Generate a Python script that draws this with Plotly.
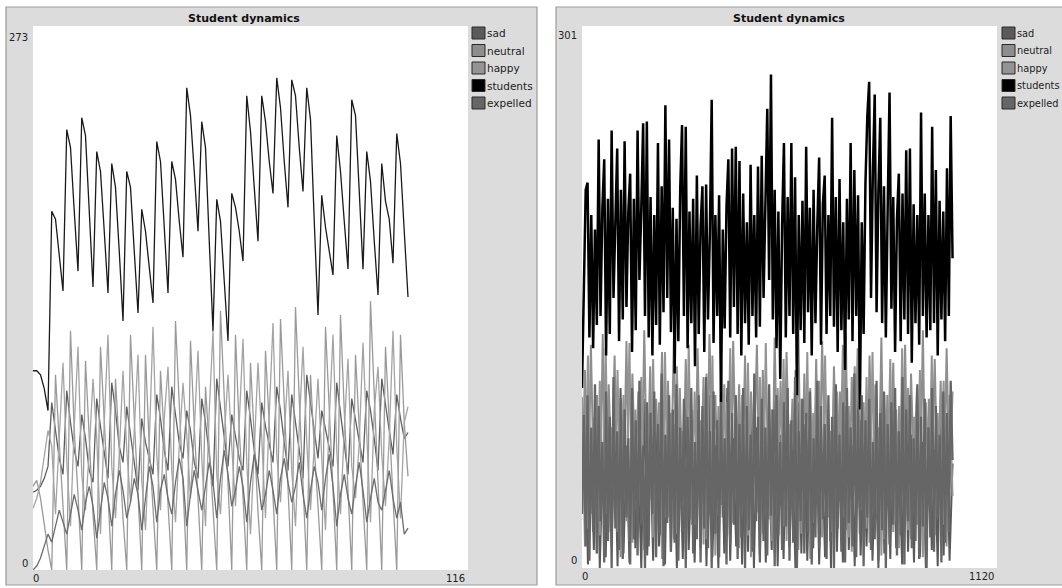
import plotly.graph_objects as go

W, H = 1062, 588

# ---------------- left chart data (ticks 0..100) ----------------
ticks_left = list(range(101))
students_l = [100, 100, 98, 91, 80,
              180, 176, 158, 140, 221, 212, 180, 150, 227, 218, 180, 142,
              210, 200, 170, 139, 204, 192, 160, 125, 200, 192, 160, 129,
              181, 170, 152, 134, 215, 205, 172, 139, 205, 196, 175, 157,
              242, 228, 200, 170, 225, 212, 165, 120, 186, 175, 145, 115,
              189, 182, 170, 155, 238, 220, 192, 165, 238, 225, 205, 189,
              247, 232, 205, 182, 246, 238, 212, 190, 242, 226, 175, 128,
              188, 172, 160, 148, 218, 200, 175, 151, 236, 228, 190, 151,
              210, 195, 165, 138, 204, 185, 176, 154, 219, 204, 170, 137]
neutral_l = [42, 45, 36, 22, 10,
             0, 98, 64, 30, 0, 120, 70, 38, 0, 105, 68, 28, 0, 112, 75, 35,
             0, 96, 58, 26, 0, 118, 76, 40, 0, 108, 62, 31, 0, 100, 66, 36,
             0, 125, 80, 42, 0, 115, 72, 33, 0, 92, 60, 30, 0, 130, 84, 45,
             0, 118, 70, 37, 0, 104, 66, 29, 0, 110, 73, 38, 0, 126, 79, 41,
             0, 132, 86, 44, 0, 98, 61, 32, 0, 122, 78, 40, 0, 128, 80, 39,
             0, 108, 69, 34, 0, 135, 88, 46, 0, 112, 71, 36, 0, 118, 74, 47]
happy_l = [31, 36, 44, 58, 70,
           62, 28, 66, 104, 55, 22, 72, 112, 48, 30, 60, 96, 66, 18, 74, 118,
           52, 26, 58, 100, 60, 34, 70, 108, 45, 20, 64, 122, 58, 30, 76, 102,
           50, 24, 62, 94, 68, 36, 70, 110, 56, 22, 80, 120, 48, 28, 66, 98,
           62, 32, 74, 116, 54, 18, 60, 104, 66, 26, 78, 124, 58, 34, 68, 100,
           50, 22, 72, 112, 64, 30, 62, 96, 56, 20, 76, 118, 60, 28, 70, 106,
           52, 36, 64, 114, 68, 24, 80, 102, 58, 32, 66, 120, 62, 26, 74, 82]
sad_l = [39, 40, 42, 46, 52,
         84, 70, 56, 48, 90, 74, 60, 52, 78, 66, 50, 44, 86, 72, 58, 46,
         94, 80, 62, 54, 82, 68, 52, 40, 76, 64, 56, 48, 88, 76, 60, 50,
         92, 78, 64, 56, 80, 70, 54, 46, 86, 74, 58, 42, 96, 82, 66, 52,
         78, 66, 56, 50, 90, 76, 60, 48, 84, 72, 62, 54, 92, 80, 64, 50,
         88, 74, 58, 46, 98, 84, 68, 56, 80, 70, 60, 52, 94, 78, 62, 48,
         86, 76, 64, 54, 90, 80, 66, 50, 96, 82, 70, 58, 88, 76, 66, 69]
expelled_l = [0, 2, 6, 12, 18,
              14, 22, 30, 24, 18, 28, 38, 30, 20, 34, 42, 32, 16, 30, 44, 36,
              22, 38, 50, 40, 26, 34, 46, 38, 20, 36, 52, 42, 24, 40, 48, 36,
              28, 44, 56, 46, 22, 38, 50, 40, 30, 42, 54, 44, 26, 46, 60, 48,
              32, 40, 52, 42, 24, 44, 58, 46, 30, 38, 50, 40, 28, 46, 56, 44,
              34, 42, 54, 38, 26, 40, 52, 44, 30, 46, 58, 42, 22, 38, 48, 36,
              28, 42, 54, 40, 24, 36, 46, 34, 30, 40, 50, 36, 26, 34, 18, 21]

# ---------------- right chart data (ticks 0..1000) ----------------
ticks_right_5 = list(range(0, 1001, 5))
ticks_right_8 = list(range(0, 1001, 8))
students_r = [100, 148, 210, 214, 128, 196, 122, 188, 135, 238,
              140, 200, 227, 118, 205, 130, 243, 150, 192, 233,
              126, 210, 138, 237, 145, 198, 219, 120, 205, 132,
              243, 160, 200, 247, 140, 248, 128, 206, 118, 196,
              135, 236, 124, 212, 142, 257, 150, 238, 131, 200,
              108, 194, 126, 210, 246, 140, 245, 122, 198, 136,
              205, 112, 218, 130, 190, 212, 120, 213, 138, 185,
              260, 125, 196, 140, 207, 92, 188, 133, 201, 227,
              128, 233, 145, 234, 130, 226, 118, 208, 136, 192,
              124, 224, 140, 196, 128, 223, 134, 229, 150, 206,
              255, 160, 274, 138, 210, 122, 198, 105, 190, 236,
              128, 206, 140, 236, 130, 217, 96, 196, 132, 204,
              125, 234, 142, 200, 118, 210, 136, 190, 228, 124,
              202, 218, 130, 196, 140, 250, 134, 206, 120, 216,
              132, 192, 110, 205, 138, 236, 126, 221, 140, 207,
              88, 192, 130, 214, 251, 270, 150, 220, 263, 142,
              210, 250, 136, 212, 128, 200, 264, 144, 206, 120,
              194, 219, 126, 208, 138, 232, 130, 233, 114, 202,
              136, 196, 124, 253, 140, 208, 128, 196, 132, 245,
              136, 221, 118, 204, 138, 198, 126, 222, 140, 251,
              172]
expelled_r = [30, 85, 12, 96, 4, 78, 20, 102, 8, 90,
              26, 70, 3, 98, 15, 84, 0, 106, 22, 76,
              10, 94, 5, 88, 28, 72, 2, 100, 16, 82,
              7, 104, 24, 68, 0, 92, 12, 86, 30, 98,
              6, 80, 18, 108, 1, 74, 25, 96, 9, 88,
              14, 102, 4, 78, 20, 94, 0, 84, 27, 100,
              8, 70, 16, 96, 3, 90, 22, 106, 11, 76,
              0, 98, 19, 82, 6, 92, 28, 72, 2, 104,
              13, 86, 24, 96, 5, 80, 17, 100, 0, 90,
              21, 74, 9, 108, 26, 84, 3, 94, 15, 78,
              7, 102, 29, 88, 1, 96, 18, 70, 10, 92,
              23, 100, 4, 82, 14, 106, 0, 76, 26, 94,
              8, 86, 20, 98, 2, 72, 17, 104, 11, 90,
              27, 80, 5, 96, 15, 84, 0, 102, 22, 74,
              9, 92, 3, 100, 25, 78, 12, 108, 6, 88,
              19, 96, 1, 82, 28, 94, 10, 70, 16, 104,
              4, 86, 21, 98, 0, 80, 13, 92, 24, 100,
              7, 76, 18, 106, 2, 88, 26, 96, 11, 72,
              15, 102, 5, 84, 23, 94, 0, 78, 17, 100,
              9, 90, 28, 74, 3, 98, 14, 86, 20, 104,
              60]
neutral_r = [38, 110, 22, 124, 45, 96, 18, 130, 30, 102,
             52, 118, 20, 90, 36, 126, 15, 108, 48, 98,
             26, 132, 40, 112, 17, 94, 55, 120, 28, 104,
             44, 128, 19, 100, 34, 116, 50, 88, 24, 122,
             41, 106, 16, 130, 53, 96, 29, 114, 37, 92,
             21, 126, 47, 102, 33, 118, 18, 98, 55, 124,
             27, 110, 42, 90, 15, 128, 39, 104, 23, 120,
             50, 94, 31, 132, 19, 108, 46, 100, 25, 116,
             36, 126, 54, 88, 20, 112, 43, 98, 28, 130,
             17, 106, 49, 122, 32, 92, 22, 118, 45, 102,
             38, 128, 16, 96, 52, 114, 26, 90, 40, 124,
             21, 108, 47, 100, 30, 132, 18, 94, 55, 116,
             34, 104, 24, 122, 44, 98]
happy_r = [95, 12, 118, 30, 84, 8, 104, 36, 122, 20,
           78, 40, 110, 6, 96, 26, 125, 14, 88, 34,
           106, 10, 80, 38, 116, 22, 92, 5, 120, 28,
           86, 16, 112, 33, 76, 9, 124, 24, 98, 39,
           82, 13, 108, 29, 118, 7, 90, 35, 102, 18,
           122, 25, 84, 11, 96, 37, 114, 6, 78, 31,
           106, 19, 125, 27, 88, 8, 100, 40, 116, 15,
           80, 32, 110, 10, 94, 23, 120, 5, 86, 36,
           104, 17, 118, 28, 76, 12, 98, 38, 124, 21,
           90, 9, 112, 34, 82, 26, 106, 14, 120, 30,
           78, 7, 96, 39, 116, 20, 88, 11, 122, 33,
           100, 16, 84, 24, 110, 6, 92, 37, 118, 18,
           86, 29, 104, 12, 96, 40]
sad_r = [30, 88, 2, 72, 10, 96, 0, 64, 6, 84,
         12, 78, 1, 100, 8, 68, 3, 90, 11, 60,
         0, 94, 7, 74, 4, 86, 12, 66, 2, 98,
         9, 80, 0, 70, 5, 92, 10, 62, 3, 88,
         11, 76, 1, 96, 6, 68, 0, 84, 8, 100,
         4, 72, 12, 90, 2, 64, 9, 94, 0, 78,
         7, 86, 3, 60, 10, 98, 1, 74, 5, 88,
         12, 66, 0, 92, 8, 80, 4, 70, 11, 96,
         2, 62, 6, 84, 0, 100, 9, 76, 3, 90,
         10, 68, 1, 94, 7, 72, 12, 86, 4, 64,
         0, 98, 8, 78, 5, 88, 11, 60, 2, 92,
         9, 74, 3, 96, 6, 70, 0, 84, 10, 66,
         1, 90, 7, 80, 4, 58]

series_names = ["sad", "neutral", "happy", "students", "expelled"]
series_colors = ["#5a5a5a", "#8e8e8e", "#949494", "#000000", "#666666"]
left_line_colors = ["#5e5e5e", "#9a9a9a", "#a4a4a4", "#1a1a1a", "#6c6c6c"]

left_y_max, left_x_max = 273, 116
right_y_max, right_x_max = 301, 1120


def px(x):
    return x / W


def py(y):
    return 1 - y / H


fig = go.Figure()

left_data = [(ticks_left, sad_l), (ticks_left, neutral_l), (ticks_left, happy_l),
             (ticks_left, students_l), (ticks_left, expelled_l)]
right_data = [(ticks_right_8, sad_r), (ticks_right_8, neutral_r), (ticks_right_8, happy_r),
              (ticks_right_5, students_r), (ticks_right_5, expelled_r)]
right_widths = [2.0, 2.0, 2.0, 2.5, 2.3]

for (xs, ys), name, col in zip(left_data, series_names, left_line_colors):
    fig.add_trace(go.Scatter(x=xs, y=ys, mode="lines", name=name, showlegend=False,
                             line=dict(color=col, width=1.3), xaxis="x", yaxis="y",
                             hoverinfo="skip"))
for (xs, ys), name, col, lw in zip(right_data, series_names, series_colors, right_widths):
    fig.add_trace(go.Scatter(x=xs, y=ys, mode="lines", name=name, showlegend=False,
                             line=dict(color=col, width=lw), xaxis="x2", yaxis="y2",
                             hoverinfo="skip"))

ax_common = dict(showgrid=False, zeroline=False, showticklabels=False, ticks="",
                 showline=False, fixedrange=True)

shapes = []
annotations = []

panels = [
    dict(outer=(6, 537, 7, 585), plot=(33, 468, 26, 570), leg=472, title=244, leg_font=10.5,
         ymax=left_y_max, xmax=left_x_max, ylab_x=30, ytop_y=37, y0_y=563, xl_y=578),
    dict(outer=(556, 1070, 7, 585), plot=(582, 997, 26, 568), leg=1002, title=789, leg_font=9.8,
         ymax=right_y_max, xmax=right_x_max, ylab_x=579, ytop_y=35, y0_y=560, xl_y=576),
]

for p in panels:
    ox0, ox1, oy0, oy1 = p["outer"]
    shapes.append(dict(type="rect", xref="paper", yref="paper", layer="below",
                       x0=px(ox0), x1=px(ox1), y0=py(oy1), y1=py(oy0),
                       fillcolor="#dcdcdc", line=dict(color="#9c9c9c", width=1.2)))
    x0, x1, y0, y1 = p["plot"]
    shapes.append(dict(type="rect", xref="paper", yref="paper", layer="below",
                       x0=px(x0), x1=px(x1), y0=py(y1), y1=py(y0),
                       fillcolor="#ffffff", line=dict(width=0)))
    annotations.append(dict(text="<b>Student dynamics</b>", xref="paper", yref="paper",
                            x=px(p["title"]), y=py(18), xanchor="center", yanchor="middle",
                            showarrow=False, font=dict(family="DejaVu Sans", size=11, color="#111")))
    lab_font = dict(family="DejaVu Sans", size=10, color="#222")
    annotations.append(dict(text=str(p["ymax"]), xref="paper", yref="paper",
                            x=px(p["ylab_x"]), y=py(p["ytop_y"]), xanchor="right", yanchor="middle",
                            showarrow=False, font=lab_font))
    annotations.append(dict(text="0", xref="paper", yref="paper",
                            x=px(p["ylab_x"]), y=py(p["y0_y"]), xanchor="right", yanchor="middle",
                            showarrow=False, font=lab_font))
    annotations.append(dict(text="0", xref="paper", yref="paper",
                            x=px(x0 - 2), y=py(p["xl_y"]), xanchor="left", yanchor="middle",
                            showarrow=False, font=lab_font))
    annotations.append(dict(text=str(p["xmax"]), xref="paper", yref="paper",
                            x=px(x1 - 1), y=py(p["xl_y"]), xanchor="right", yanchor="middle",
                            showarrow=False, font=lab_font))
    for i, (name, col) in enumerate(zip(series_names, series_colors)):
        cy = 33 + i * 17.5
        shapes.append(dict(type="rect", xref="paper", yref="paper", layer="below",
                           x0=px(p["leg"]), x1=px(p["leg"] + 13), y0=py(cy + 6), y1=py(cy - 6),
                           fillcolor=col, line=dict(color="#2a2a2a", width=1)))
        annotations.append(dict(text=name, xref="paper", yref="paper",
                                x=px(p["leg"] + 14), y=py(cy), xanchor="left", yanchor="middle",
                                showarrow=False, borderpad=0,
                                font=dict(family="DejaVu Sans", size=p["leg_font"], color="#222")))

lp, rp = panels[0]["plot"], panels[1]["plot"]
fig.update_layout(
    width=W, height=H, margin=dict(l=0, r=0, t=0, b=0),
    paper_bgcolor="#ffffff", plot_bgcolor="rgba(0,0,0,0)",
    showlegend=False,
    xaxis=dict(domain=[px(lp[0]), px(lp[1])], range=[0, left_x_max], anchor="y", **ax_common),
    yaxis=dict(domain=[py(lp[3]), py(lp[2])], range=[0, left_y_max], anchor="x", **ax_common),
    xaxis2=dict(domain=[px(rp[0]), px(rp[1])], range=[0, right_x_max], anchor="y2", **ax_common),
    yaxis2=dict(domain=[py(rp[3]), py(rp[2])], range=[0, right_y_max], anchor="x2", **ax_common),
    shapes=shapes, annotations=annotations,
)

fig.write_html("out.html", config={"displayModeBar": False},
               post_script="document.body.style.margin='0px';document.body.style.overflow='hidden';")
